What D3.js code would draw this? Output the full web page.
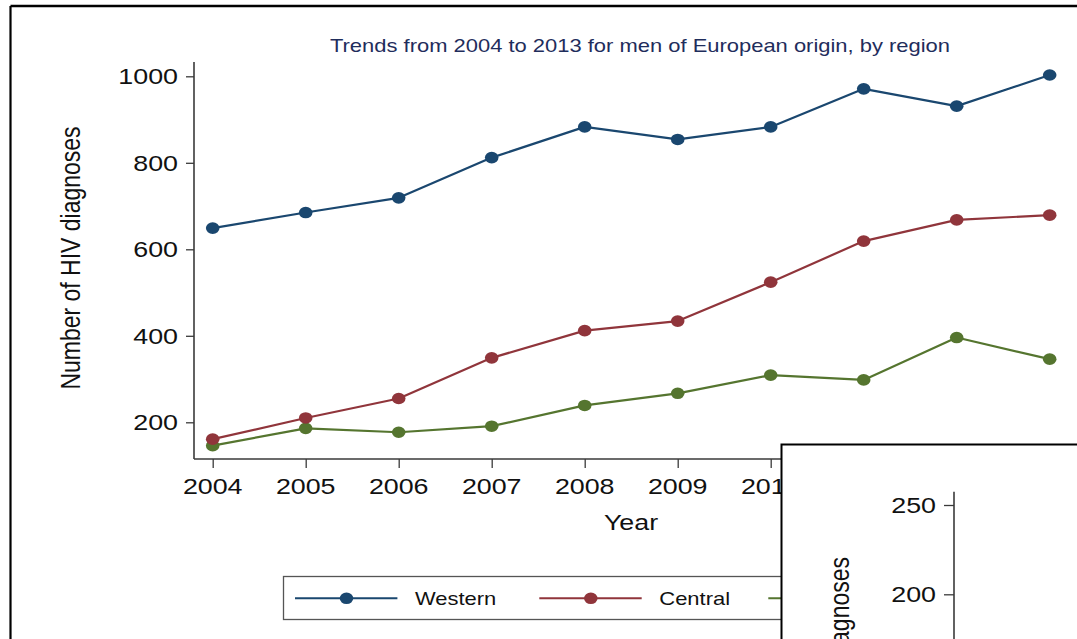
<!DOCTYPE html>
<html>
<head>
<meta charset="utf-8">
<script src="https://cdn.jsdelivr.net/npm/d3@7"></script>
<style>
  html, body { margin: 0; padding: 0; background: #fff; }
  svg { display: block; }
  text { font-family: "Liberation Sans", Arial, Helvetica, sans-serif; }
</style>
</head>
<body>
<svg id="chart" width="1077" height="639"></svg>
<script>
// HIV diagnoses among men of European origin, by region
const years = [2004, 2005, 2006, 2007, 2008, 2009, 2010, 2011, 2012, 2013];
const western = [649, 685, 719, 812, 883, 854, 883, 971, 931, 1003];
const central = [161, 210, 255, 349, 412, 434, 524, 619, 668, 679];
const eastern = [146, 186, 177, 191, 239, 267, 309, 298, 396, 346];
const seriesNames = ["Western", "Central", "Eastern"];
const seriesColors = ["#1a476f", "#90353b", "#55752f"];
const yTicks = [200, 400, 600, 800, 1000];
const insetTicks = [200, 250];

const titleText = "Trends from 2004 to 2013 for men of European origin, by region";
const yLabel = "Number of HIV diagnoses";
const xLabel = "Year";

const svg = d3.select("#chart");
const SX = 1.22;          // horizontal glyph stretch of the exported graph
const axisColor = "#3a3a3a";
const insetLeft = 781.5;  // left edge of the second panel that overlaps this one

// text helper: places a label and widens it horizontally
function label(g, x, y, str, size, anchor, color, rotate) {
  return g.append("text")
    .attr("transform", `translate(${x},${y}) scale(${SX},1)` + (rotate ? ` rotate(${rotate})` : ""))
    .attr("text-anchor", anchor)
    .attr("font-size", size)
    .attr("fill", color || "#111")
    .text(str);
}

// outer frame
svg.append("rect").attr("width", 1077).attr("height", 639).attr("fill", "#fff");
svg.append("line").attr("x1", 10.5).attr("x2", 1077).attr("y1", 6).attr("y2", 6)
  .attr("stroke", "#000").attr("stroke-width", 2.5);
svg.append("line").attr("x1", 10.5).attr("x2", 10.5).attr("y1", 6).attr("y2", 639)
  .attr("stroke", "#000").attr("stroke-width", 2.2);

// scales
const x = d3.scaleLinear().domain([2004, 2013]).range([212.7, 1049.7]);
const y = d3.scaleLinear().domain([200, 1000]).range([422.3, 76.3]);
const axisX0 = 194, axisY0 = 459;

const g = svg.append("g");

// title
label(g, 640, 52, titleText, 18, "middle", "#1f2d5c");

// y axis
const yAxis = g.append("g").attr("transform", `translate(${axisX0},0)`)
  .call(d3.axisLeft(y).tickValues(yTicks).tickSize(8).tickFormat(d3.format("d")));
yAxis.select(".domain").remove();
yAxis.selectAll(".tick line").attr("stroke", axisColor).attr("stroke-width", 1.3);
yAxis.selectAll(".tick text").remove();
yAxis.append("line").attr("x1", 0).attr("x2", 0).attr("y1", 62).attr("y2", axisY0)
  .attr("stroke", axisColor).attr("stroke-width", 1.6);
yTicks.forEach(t => label(g, 178, y(t) + 8, String(t), 22, "end", "#111"));

// x axis
const xAxis = g.append("g").attr("transform", `translate(0,${axisY0})`)
  .call(d3.axisBottom(x).tickValues(years).tickSize(9).tickFormat(d3.format("d")));
xAxis.select(".domain").remove();
xAxis.selectAll(".tick line").attr("stroke", axisColor).attr("stroke-width", 1.3);
xAxis.selectAll(".tick text").remove();
xAxis.append("line").attr("x1", axisX0).attr("x2", 1068).attr("y1", 0).attr("y2", 0)
  .attr("stroke", axisColor).attr("stroke-width", 1.6);
// year labels; those lying wholly under the second panel are not drawn
years.filter(t => x(t) - 32 < insetLeft)
  .forEach(t => label(g, x(t), 494, String(t), 22, "middle", "#111"));

// axis titles
label(g, 631, 530, xLabel, 22, "middle", "#111");
label(g, 80, 258, yLabel, 23, "middle", "#111", -90);

// series lines and markers
const allSeries = [western, central, eastern];
const line = d3.line().x((d, i) => x(years[i])).y(d => y(d));
allSeries.slice().reverse().forEach((vals, k) => {
  const idx = allSeries.length - 1 - k;
  const col = seriesColors[idx];
  g.append("path").datum(vals).attr("d", line)
    .attr("fill", "none").attr("stroke", col).attr("stroke-width", 2.2)
    .attr("stroke-linejoin", "round");
  g.selectAll(null).data(vals).enter().append("ellipse")
    .attr("cx", (d, i) => x(years[i])).attr("cy", d => y(d))
    .attr("rx", 6.8).attr("ry", 5.8).attr("fill", col);
});

// legend
const lg = svg.append("g");
lg.append("rect").attr("x", 283.5).attr("y", 576.5).attr("width", 694).attr("height", 43)
  .attr("fill", "#fff").attr("stroke", "#555").attr("stroke-width", 1.3);
const legendStarts = [295, 539.3, 768.3];
seriesNames.forEach((name, i) => {
  const x0 = legendStarts[i], ly = 598.3;
  lg.append("line").attr("x1", x0).attr("x2", x0 + 102.4).attr("y1", ly).attr("y2", ly)
    .attr("stroke", seriesColors[i]).attr("stroke-width", 2);
  lg.append("ellipse").attr("cx", x0 + 51.5).attr("cy", ly).attr("rx", 6.8).attr("ry", 5.8)
    .attr("fill", seriesColors[i]);
  if (x0 + 120 < insetLeft) label(lg, x0 + 120, ly + 6.5, name, 18, "start", "#111");
});

// overlapping second graph panel (its y axis only)
const inset = svg.append("g");
inset.append("rect").attr("x", insetLeft).attr("y", 444.5).attr("width", 400).attr("height", 300)
  .attr("fill", "#fff").attr("stroke", "#000").attr("stroke-width", 2);
const yi = d3.scaleLinear().domain([200, 250]).range([594.3, 505]);
const iAxis = inset.append("g").attr("transform", "translate(954,0)")
  .call(d3.axisLeft(yi).tickValues(insetTicks).tickSize(10).tickFormat(d3.format("d")));
iAxis.select(".domain").remove();
iAxis.selectAll(".tick line").attr("stroke", axisColor).attr("stroke-width", 1.3);
iAxis.selectAll(".tick text").remove();
iAxis.append("line").attr("x1", 0).attr("x2", 0).attr("y1", 491.7).attr("y2", 639)
  .attr("stroke", axisColor).attr("stroke-width", 1.6);
insetTicks.forEach(t => label(inset, 936, yi(t) + 8, String(t), 22, "end", "#111"));
label(inset, 849, 557, yLabel, 23, "end", "#111", -90);
</script>
</body>
</html>
